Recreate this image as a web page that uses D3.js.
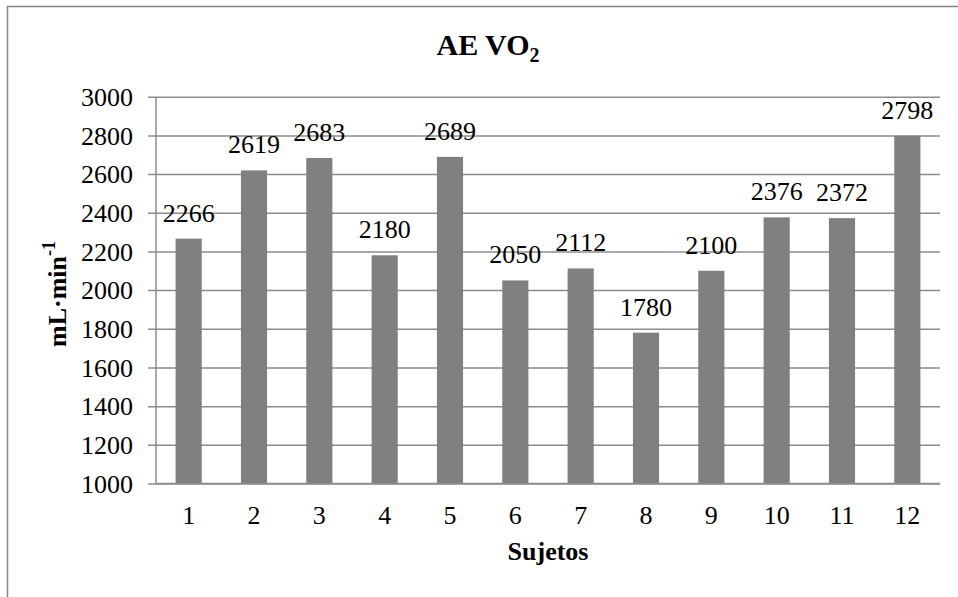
<!DOCTYPE html>
<html>
<head>
<meta charset="utf-8">
<script src="https://cdn.jsdelivr.net/npm/d3@7"></script>
<style>
  html, body { margin: 0; padding: 0; background: #fff; }
  svg { display: block; }
  svg text { font-family: "Liberation Serif", "Times New Roman", Times, serif !important; fill: #000; }
</style>
</head>
<body>
<svg id="chart" width="958" height="597"></svg>
<script>
// Subjects and their VO2 at the aerobic threshold (mL·min-1)
const subjects = ["1", "2", "3", "4", "5", "6", "7", "8", "9", "10", "11", "12"];
const vo2Values = [2266, 2619, 2683, 2180, 2689, 2050, 2112, 1780, 2100, 2376, 2372, 2798];
const yTicks = [1000, 1200, 1400, 1600, 1800, 2000, 2200, 2400, 2600, 2800, 3000];

const SERIF = '"Liberation Serif", "Times New Roman", Times, serif';
const svg = d3.select("#chart").style("font-family", SERIF);
const W = 958, H = 597;
const plot = { left: 156, right: 940, top: 96.7, bottom: 483.5 };

// Outer chart frame
svg.append("rect")
  .attr("x", 7.5).attr("y", 6.5)
  .attr("width", W + 20).attr("height", H + 20)
  .attr("fill", "#fff")
  .attr("stroke", "#878787").attr("stroke-width", 1.5);

const x = d3.scaleBand()
  .domain(subjects)
  .range([plot.left, plot.right])
  .paddingInner(0.6)
  .paddingOuter(0.3);

const y = d3.scaleLinear()
  .domain([1000, 3000])
  .range([plot.bottom, plot.top]);

// Horizontal gridlines with tick marks extending left of the axis
const yAxis = d3.axisLeft(y)
  .tickValues(yTicks)
  .tickSize(-(plot.right - plot.left))
  .tickSizeOuter(0)
  .tickPadding(23)
  .tickFormat(d3.format("d"));

const gy = svg.append("g")
  .attr("transform", `translate(${plot.left},0)`)
  .call(yAxis)
  .attr("font-family", SERIF);
gy.select(".domain").remove();
gy.selectAll(".tick line")
  .attr("x1", -8)
  .attr("stroke", "#8c8c8c")
  .attr("stroke-width", 1.5);
gy.selectAll(".tick text")
  .style("font-family", SERIF)
  .style("font-size", "26px")
  .attr("dy", "0.34em");

// Vertical axis line
svg.append("line")
  .attr("x1", plot.left).attr("x2", plot.left)
  .attr("y1", plot.top).attr("y2", plot.bottom)
  .attr("stroke", "#8c8c8c").attr("stroke-width", 1.5);

// Bars
svg.append("g").selectAll("rect")
  .data(vo2Values)
  .join("rect")
  .attr("x", (d, i) => x(subjects[i]))
  .attr("width", x.bandwidth())
  .attr("y", d => y(d))
  .attr("height", d => y(1000) - y(d))
  .attr("fill", "#808080");

// Bottom axis
const xAxis = d3.axisBottom(x).tickSize(0).tickPadding(22);
const gx = svg.append("g")
  .attr("transform", `translate(0,${plot.bottom})`)
  .call(xAxis)
  .attr("font-family", SERIF);
gx.select(".domain").remove();
gx.selectAll(".tick text")
  .style("font-family", SERIF)
  .style("font-size", "26px");

svg.append("line")
  .attr("x1", plot.left).attr("x2", plot.right)
  .attr("y1", plot.bottom).attr("y2", plot.bottom)
  .attr("stroke", "#8c8c8c").attr("stroke-width", 1.5);

// Value labels above each bar
svg.append("g").selectAll("text")
  .data(vo2Values)
  .join("text")
  .attr("x", (d, i) => x(subjects[i]) + x.bandwidth() / 2)
  .attr("y", d => y(d) - 17)
  .attr("text-anchor", "middle")
  .style("font-family", SERIF)
  .style("font-size", "26px")
  .text(d => d);

// Title
const title = svg.append("text")
  .attr("x", 488).attr("y", 55)
  .attr("text-anchor", "middle")
  .style("font-family", SERIF)
  .style("font-size", "30px")
  .style("font-weight", "bold");
title.append("tspan").text("AE VO");
title.append("tspan").attr("dy", 7).style("font-size", "20px").text("2");

// Axis titles
svg.append("text")
  .attr("x", (plot.left + plot.right) / 2).attr("y", 560)
  .attr("text-anchor", "middle")
  .style("font-family", SERIF)
  .style("font-size", "26px")
  .style("font-weight", "bold")
  .text("Sujetos");

const yTitle = svg.append("text")
  .attr("transform", "translate(66,294) rotate(-90)")
  .attr("text-anchor", "middle")
  .style("font-family", SERIF)
  .style("font-size", "26px")
  .style("font-weight", "bold");
yTitle.append("tspan").text("mL·min");
yTitle.append("tspan").attr("dy", -11).style("font-size", "18px").text("-1");
</script>
</body>
</html>
